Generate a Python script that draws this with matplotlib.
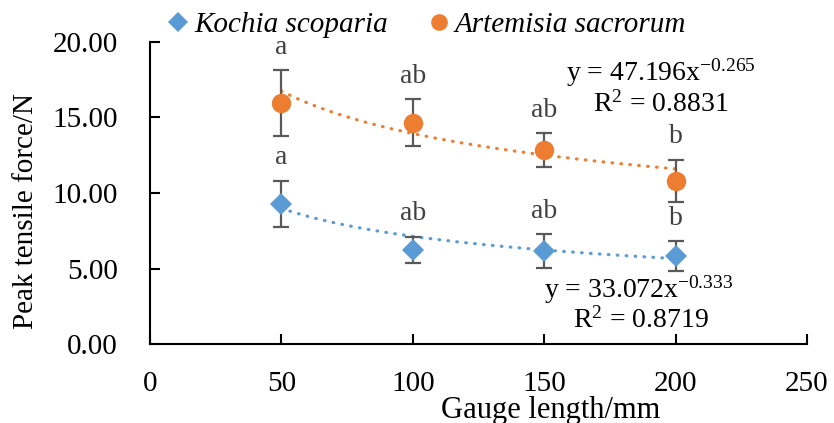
import numpy as np
import matplotlib
matplotlib.use("Agg")
import matplotlib.pyplot as plt
from matplotlib.lines import Line2D

plt.rcParams['font.family'] = ['Liberation Serif', 'DejaVu Serif']
plt.rcParams['mathtext.fontset'] = 'custom'
plt.rcParams['mathtext.rm'] = 'Liberation Serif'
plt.rcParams['mathtext.it'] = 'Liberation Serif:italic'

# data
gauge = [50, 100, 150, 200]
kochia_mean = [9.3, 6.25, 6.15, 5.82]
kochia_err = [1.52, 0.85, 1.12, 0.98]
kochia_letters = ['a', 'ab', 'ab', 'b']
artem_mean = [15.95, 14.65, 12.85, 10.8]
artem_err = [2.15, 1.55, 1.1, 1.4]
artem_letters = ['a', 'ab', 'ab', 'b']

# power trendlines as printed on the chart (y = a * x^b)
kochia_fit = (33.072, -0.333, 0.8719)
artem_fit = (47.196, -0.265, 0.8831)

blue = '#5B9BD5'
orange = '#ED7D31'
grey = '#595959'

fig = plt.figure(figsize=(8.34, 4.23), dpi=100)
ax = fig.add_axes([150 / 834, 1 - 344.3 / 423, 657 / 834, 302.6 / 423])

xs = np.linspace(min(gauge), max(gauge), 200)
for (a, b, r2), col in [(kochia_fit, blue), (artem_fit, orange)]:
    ax.plot(xs, a * xs ** b, color=col, lw=2.3, linestyle=(0, (0.2, 2.6)),
            dash_capstyle='round', zorder=2)

for mean, err, mk, ms, col in [(kochia_mean, kochia_err, 'D', 11, blue),
                               (artem_mean, artem_err, 'o', 14, orange)]:
    ax.errorbar(gauge, mean, yerr=err, fmt='none', ecolor=grey, elinewidth=1.6,
                capsize=5.5, capthick=1.6, zorder=3)
    ax.plot(gauge, mean, linestyle='none', marker=mk, markersize=ms,
            color=col, markeredgewidth=0, zorder=4)

for mean, err, letters in [(kochia_mean, kochia_err, kochia_letters),
                           (artem_mean, artem_err, artem_letters)]:
    for x, m, e, t in zip(gauge, mean, err, letters):
        ax.annotate(t, (x, m + e), xytext=(0, 12), textcoords='offset points',
                    ha='center', va='baseline', fontsize=20, color='#404040')

# trendline equations
fig.text(661 / 834, 1 - 73 / 423, r'y = 47.196x$^{\mathrm{-0.265}}$',
         ha='center', va='center', fontsize=20)
fig.text(661 / 834, 1 - 104 / 423, r'R$^{\mathrm{2}}$ = 0.8831',
         ha='center', va='center', fontsize=20)
fig.text(639 / 834, 1 - 290 / 423, r'y = 33.072x$^{\mathrm{-0.333}}$',
         ha='center', va='center', fontsize=20)
fig.text(641 / 834, 1 - 320 / 423, r'R$^{\mathrm{2}}$ = 0.8719',
         ha='center', va='center', fontsize=20)

ax.set_xlim(0, 250)
ax.set_ylim(0, 20)
ax.set_xticks(range(0, 251, 50))
ax.set_yticks(np.arange(0, 20.1, 5))
ax.set_yticklabels([f'{v:.2f}' for v in np.arange(0, 20.1, 5)])
ax.tick_params(direction='in', length=7, width=1.5, labelsize=21)
ax.tick_params(axis='y', pad=23)
ax.tick_params(axis='x', pad=19)
for s in ['top', 'right']:
    ax.spines[s].set_visible(False)
for s in ['left', 'bottom']:
    ax.spines[s].set_linewidth(1.5)

ax.set_xlabel('Gauge length/mm', fontsize=22)
ax.xaxis.set_label_coords((551 - 150) / 657, (344.3 - 410) / 302.6)
ax.xaxis.label.set_va('center')
ax.set_ylabel('Peak tensile force/N', fontsize=21)
ax.yaxis.set_label_coords((26 - 150) / 657, (344.3 - 211) / 302.6)
ax.yaxis.label.set_va('center')

handles = [Line2D([], [], linestyle='none', marker='D', markersize=10, color=blue, markeredgewidth=0),
           Line2D([], [], linestyle='none', marker='o', markersize=12, color=orange, markeredgewidth=0)]
fig.legend(handles, ['Kochia scoparia', 'Artemisia sacrorum'], loc='center',
           bbox_to_anchor=(427 / 834, 1 - 25 / 423), ncol=2, frameon=False,
           handlelength=0.7, handletextpad=0.2, columnspacing=1.4,
           prop={'family': 'Liberation Serif', 'style': 'italic', 'size': 21})

fig.savefig('out.png', dpi=100)
